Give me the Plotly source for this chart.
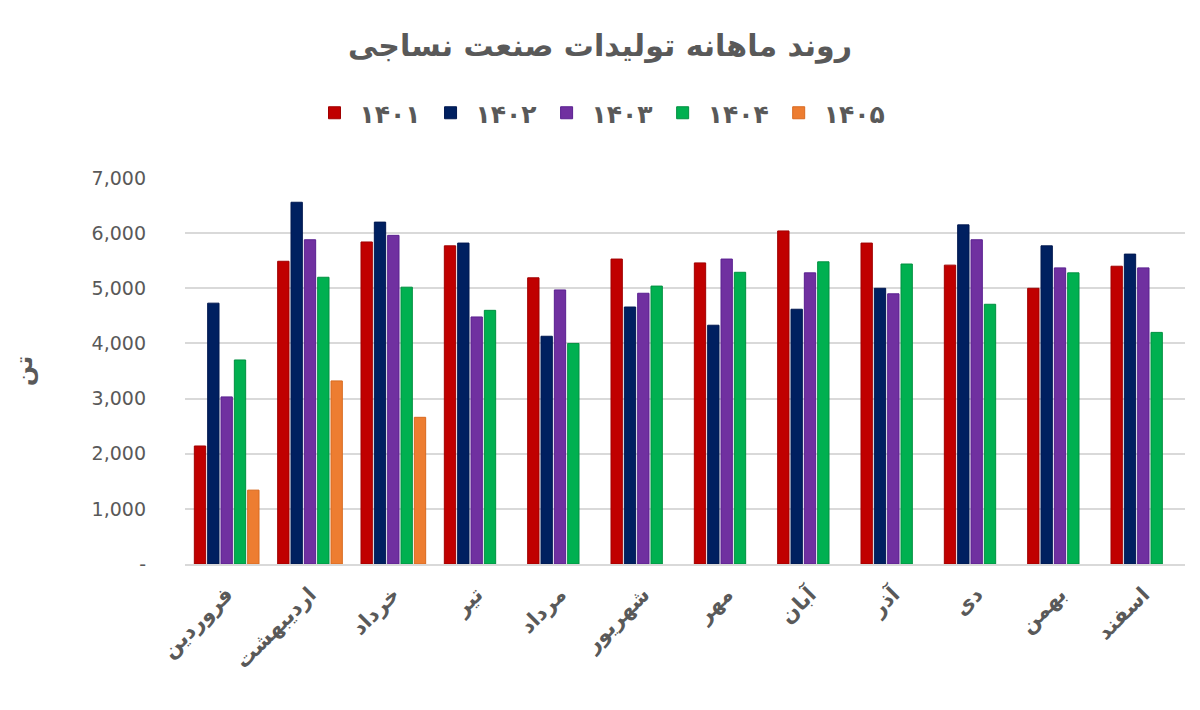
import plotly.graph_objects as go

months = ["فروردین", "اردیبهشت", "خرداد", "تیر", "مرداد", "شهریور",
          "مهر", "آبان", "آذر", "دی", "بهمن", "اسفند"]
series_names = ["۱۴۰۱", "۱۴۰۲", "۱۴۰۳", "۱۴۰۴", "۱۴۰۵"]

v1401 = [2140, 5490, 5840, 5770, 5190, 5530, 5460, 6040, 5820, 5420, 5000, 5400]
v1402 = [4730, 6560, 6200, 5820, 4130, 4660, 4330, 4620, 5000, 6150, 5770, 5620]
v1403 = [3030, 5880, 5960, 4480, 4970, 4910, 5530, 5280, 4900, 5880, 5370, 5370]
v1404 = [3700, 5200, 5020, 4600, 4000, 5040, 5290, 5480, 5440, 4710, 5280, 4200]
v1405 = [1340, 3320, 2660, None, None, None, None, None, None, None, None, None]

y_tickvals = [0, 1000, 2000, 3000, 4000, 5000, 6000, 7000]
y_ticktext = ["-", "1,000", "2,000", "3,000", "4,000", "5,000", "6,000", "7,000"]

colors = ["#C00000", "#002060", "#7030A0", "#00B050", "#ED7D31"]
edges = ["#A00000", "#001850", "#5A2090", "#009040", "#D86A20"]

fig = go.Figure()
for name, vals, c, e in zip(series_names, [v1401, v1402, v1403, v1404, v1405], colors, edges):
    fig.add_trace(go.Bar(x=months, y=vals, name=name,
                         marker=dict(color=c, line=dict(color=e, width=1))))

font_fam = "DejaVu Sans, Noto Sans, sans-serif"
fig.update_layout(
    width=1200, height=710,
    paper_bgcolor="white", plot_bgcolor="white",
    margin=dict(l=185, r=15, t=178, b=146),
    barmode="group", bargap=0.2, bargroupgap=0.15,
    font=dict(family=font_fam, color="#595959"),
    title=dict(text="<b>روند ماهانه تولیدات صنعت نساجی</b>",
               x=0.5, xref="container", xanchor="center",
               y=1 - 45 / 710, yref="container", yanchor="middle",
               font=dict(size=30, color="#595959", family=font_fam)),
    legend=dict(orientation="h", xref="container", yref="container",
                x=0.5, xanchor="center", y=1 - 113 / 710, yanchor="middle",
                font=dict(size=25, color="#595959", family=font_fam, weight="bold"),
                itemwidth=40, traceorder="normal"),
    xaxis=dict(tickangle=-45, tickfont=dict(size=21, color="#595959", weight="bold"),
               showline=True, linecolor="#d9d9d9", linewidth=1.5,
               ticks="", ticklabelstandoff=8),
    yaxis=dict(range=[0, 7000], tickvals=y_tickvals, ticktext=y_ticktext,
               tickfont=dict(size=19, color="#595959"),
               gridcolor="#d9d9d9", gridwidth=1.5, zeroline=False,
               ticks="", ticklabelstandoff=38,
               title=dict(text="<b>تن</b>", font=dict(size=24, color="#595959"), standoff=52)),
)

fig.write_html("out.html")
